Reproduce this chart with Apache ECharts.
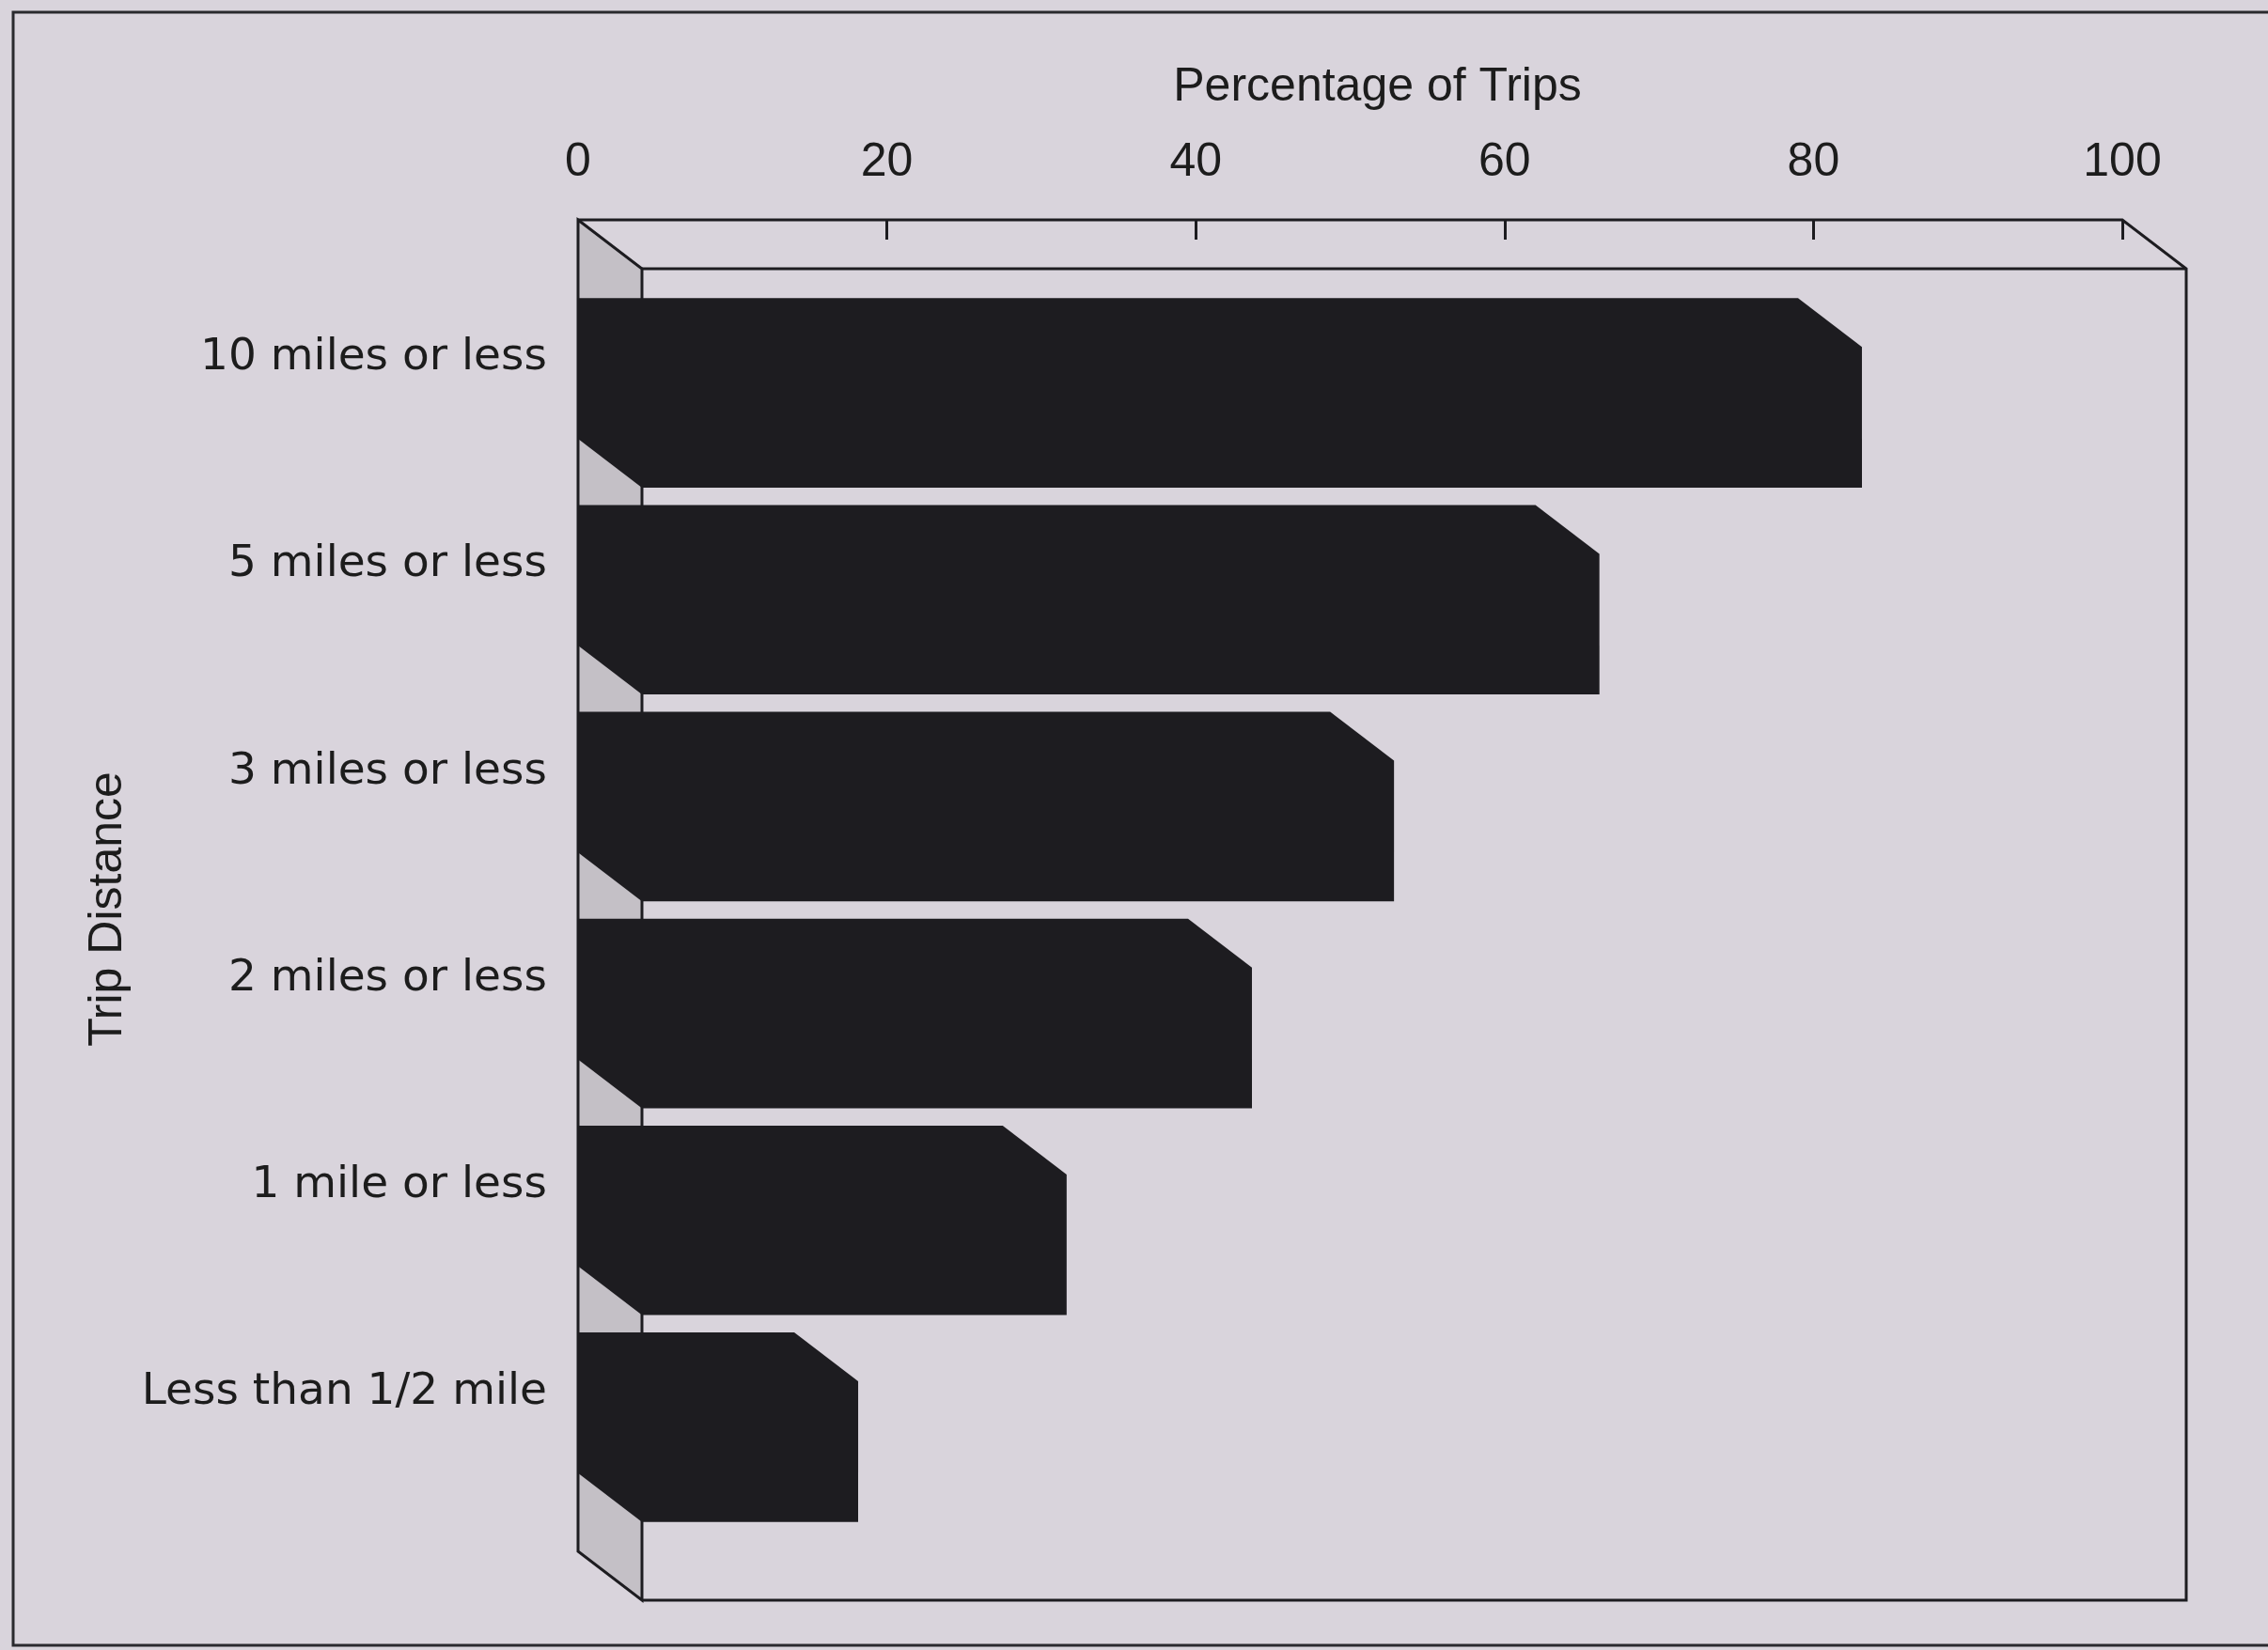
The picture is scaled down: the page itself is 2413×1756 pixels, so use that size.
<!DOCTYPE html>
<html>
<head>
<meta charset="utf-8">
<title>Trip Distance</title>
<script src="https://cdn.jsdelivr.net/npm/echarts@6/dist/echarts.min.js"></script>
<style>
  html, body { margin: 0; padding: 0; background: #d9d4dc; }
  #chart { width: 2413px; height: 1756px; }
</style>
</head>
<body>
<div id="chart"></div>
<script>
// share of trips by distance
const categories = ['10 miles or less', '5 miles or less', '3 miles or less', '2 miles or less', '1 mile or less', 'Less than 1/2 mile'];
const tripShare = [79, 62, 48.7, 39.5, 27.5, 14];
const xTicks = [0, 20, 40, 60, 80, 100];

// fake 3d look
const DEPTH_X = 68;
const DEPTH_Y = 52;
const BOX_PAD = 48;
const BAR_RATIO = 0.68;
const INK = '#1d1c20';

const chart = echarts.init(document.getElementById('chart'));

function renderBox(params, api) {
  const cs = params.coordSys;
  const x0 = cs.x, x1 = cs.x + cs.width;
  const top = cs.y - BOX_PAD, bottom = cs.y + cs.height + BOX_PAD;
  const line = { stroke: INK, lineWidth: 3, fill: 'none' };
  return {
    type: 'group',
    children: [
      {
        type: 'polygon',
        shape: { points: [[x0, top], [x0 + DEPTH_X, top + DEPTH_Y], [x0 + DEPTH_X, bottom + DEPTH_Y], [x0, bottom]] },
        style: { fill: '#c4c0c6', stroke: INK, lineWidth: 3 }
      },
      {
        type: 'polyline',
        shape: { points: [[x0, top], [x1, top], [x1 + DEPTH_X, top + DEPTH_Y], [x1 + DEPTH_X, bottom + DEPTH_Y], [x0 + DEPTH_X, bottom + DEPTH_Y]] },
        style: line
      },
      {
        type: 'line',
        shape: { x1: x0 + DEPTH_X, y1: top + DEPTH_Y, x2: x1 + DEPTH_X, y2: top + DEPTH_Y },
        style: line
      }
    ]
  };
}

function renderBar(params, api) {
  const val = api.value(0);
  const cat = api.value(1);
  const start = api.coord([0, cat]);
  const end = api.coord([val, cat]);
  const h = api.size([0, 1])[1] * BAR_RATIO;
  const t = start[1] - h / 2, b = start[1] + h / 2;
  return {
    type: 'polygon',
    shape: {
      points: [
        [start[0], t], [end[0], t],
        [end[0] + DEPTH_X, t + DEPTH_Y], [end[0] + DEPTH_X, b + DEPTH_Y],
        [start[0] + DEPTH_X, b + DEPTH_Y], [start[0], b]
      ]
    },
    style: { fill: INK }
  };
}

const option = {
  backgroundColor: '#d9d4dc',
  animation: false,
  grid: { left: 615, top: 282, width: 1643, height: 1321 },
  xAxis: {
    type: 'value',
    position: 'top',
    min: xTicks[0],
    max: xTicks[xTicks.length - 1],
    interval: xTicks[1] - xTicks[0],
    offset: BOX_PAD,
    name: 'Percentage of Trips',
    nameLocation: 'middle',
    nameGap: 116,
    nameTextStyle: { fontFamily: 'Liberation Sans', fontSize: 50, color: '#1c1c1c', padding: [0, 0, 0, 58] },
    axisLine: { show: false },
    axisTick: { show: true, inside: true, length: 21, lineStyle: { color: INK, width: 3 } },
    axisLabel: { margin: 36, fontFamily: 'Liberation Sans', fontSize: 50, color: '#1c1c1c' },
    splitLine: { show: false }
  },
  yAxis: {
    type: 'category',
    data: categories,
    inverse: true,
    axisLine: { show: false },
    axisTick: { show: false },
    axisLabel: {
      margin: 33, fontFamily: 'DejaVu Sans', fontSize: 47, color: '#1c1c1c',
      verticalAlign: 'bottom', lineHeight: 22
    },
    name: 'Trip Distance',
    nameLocation: 'middle',
    nameGap: 475,
    nameRotate: 90,
    nameTextStyle: { fontFamily: 'Liberation Sans', fontSize: 50, color: '#1c1c1c', padding: [0, 50, 0, 0] }
  },
  graphic: [{
    type: 'rect',
    silent: true,
    shape: { x: 14, y: 13, width: 2440, height: 1738 },
    style: { fill: 'none', stroke: '#2a2a2e', lineWidth: 3 }
  }],
  series: [
    {
      type: 'custom',
      z: 1,
      silent: true,
      renderItem: renderBox,
      data: [[0, 0]],
      encode: { x: 0, y: 1 }
    },
    {
      type: 'custom',
      z: 2,
      renderItem: renderBar,
      data: tripShare.map((v, i) => [v, i]),
      encode: { x: 0, y: 1 }
    }
  ]
};

chart.setOption(option);
</script>
</body>
</html>
